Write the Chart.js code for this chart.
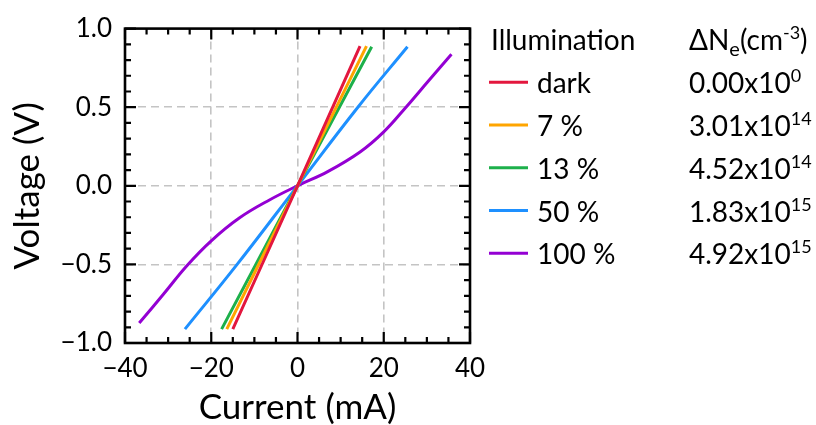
<!DOCTYPE html>
<html>
<head>
<meta charset="utf-8">
<script src="https://cdn.jsdelivr.net/npm/chart.js@4.4.1/dist/chart.umd.min.js"></script>
<style>
  html, body { margin: 0; padding: 0; background: #fff; }
</style>
</head>
<body>
<canvas id="chart" width="816" height="425"></canvas>
<script>
// illumination levels and excess carrier density
var illumination = ["dark", "7 %", "13 %", "50 %", "100 %"];
var densityMant = ["0.00", "3.01", "4.52", "1.83", "4.92"];
var densityExp = ["0", "14", "14", "15", "15"];
var colors = ["#e3173e", "#ffa500", "#1db04b", "#1e90ff", "#9400d3"];

// I-V sweeps: current (mA) and voltage (V)
var currentDark = [-15.0, 0, 14.5];
var voltageDark = [-0.912, 0, 0.889];
var current7 = [-16.4, 0, 16.0];
var voltage7 = [-0.912, 0, 0.889];
var current13 = [-17.6, 0, 17.2];
var voltage13 = [-0.912, 0, 0.885];
var current50 = [-26.1, -14.0, 0, 14.0, 25.5];
var voltage50 = [-0.912, -0.5, 0, 0.5, 0.885];
var current100 = [-36.7, -31.1, -25.7, -20.0, -13.5, -6.5, 0, 7.0, 14.5, 20.0, 25.0, 30.3, 35.7];
var voltage100 = [-0.873, -0.69, -0.51, -0.35, -0.205, -0.09, 0, 0.09, 0.215, 0.343, 0.495, 0.665, 0.837];

var xTicks = [-40, -20, 0, 20, 40];
var yTicks = [-1.0, -0.5, 0.0, 0.5, 1.0];

var currents = [currentDark, current7, current13, current50, current100];
var voltages = [voltageDark, voltage7, voltage13, voltage50, voltage100];

function pts(xs, ys) {
  return xs.map(function (x, i) { return {x: x, y: ys[i]}; });
}
function minus(s) { return s.replace("-", "\u2212"); }

// box frame with inward major/minor ticks on all sides
var frame = {
  id: "frame",
  afterDatasetsDraw: function (chart) {
    var ctx = chart.ctx, a = chart.chartArea;
    var xs = chart.scales.x, ys = chart.scales.y;
    ctx.save();
    ctx.strokeStyle = "#000";
    ctx.lineWidth = 2.2;
    ctx.beginPath();
    for (var v = -40; v <= 40; v += 5) {
      var px = xs.getPixelForValue(v);
      var len = v % 20 === 0 ? 11 : 6;
      ctx.moveTo(px, a.bottom); ctx.lineTo(px, a.bottom - len);
      ctx.moveTo(px, a.top); ctx.lineTo(px, a.top + len);
    }
    for (var k = -10; k <= 10; k++) {
      var py = ys.getPixelForValue(k / 10);
      var l2 = k % 5 === 0 ? 11 : 6;
      ctx.moveTo(a.left, py); ctx.lineTo(a.left + l2, py);
      ctx.moveTo(a.right, py); ctx.lineTo(a.right - l2, py);
    }
    ctx.stroke();
    ctx.lineWidth = 2.6;
    ctx.strokeRect(a.left, a.top, a.right - a.left, a.bottom - a.top);
    ctx.restore();
  }
};

// two-column legend: illumination and carrier density
function runs(ctx, x, y, parts) {
  parts.forEach(function (p) {
    ctx.font = p.size + "px Lato";
    ctx.fillText(p.t, x, y + (p.dy || 0));
    x += ctx.measureText(p.t).width;
  });
}
var sideLegend = {
  id: "sideLegend",
  afterDraw: function (chart) {
    var ctx = chart.ctx;
    var col1 = 491, col2 = 689, lineX = 489, textX = 537;
    var rowH = 42.75, y0 = 93.3;
    ctx.save();
    ctx.fillStyle = "#000";
    ctx.textBaseline = "alphabetic";
    runs(ctx, col1, 50, [{t: "Illumination", size: 28}]);
    runs(ctx, col2, 50, [
      {t: "\u0394N", size: 28},
      {t: "e", size: 20, dy: 6},
      {t: "(cm", size: 28},
      {t: "-3", size: 18, dy: -11},
      {t: ")", size: 28}
    ]);
    illumination.forEach(function (name, i) {
      var y = y0 + i * rowH;
      ctx.strokeStyle = colors[i];
      ctx.lineWidth = 3;
      ctx.beginPath();
      ctx.moveTo(lineX, y - 11);
      ctx.lineTo(lineX + 39, y - 11);
      ctx.stroke();
      runs(ctx, textX, y, [{t: name, size: 28}]);
      runs(ctx, col2, y, [
        {t: densityMant[i] + "x10", size: 28},
        {t: densityExp[i], size: 18, dy: -11}
      ]);
    });
    ctx.restore();
  }
};

function draw() {
  var canvas = document.getElementById("chart");
  var config = {
    type: "scatter",
    data: {
      datasets: illumination.map(function (name, i) {
        return {
          label: name,
          data: pts(currents[i], voltages[i]),
          showLine: true,
          borderColor: colors[i],
          backgroundColor: colors[i],
          borderWidth: 3,
          pointRadius: 0,
          tension: 0.4
        };
      })
    },
    options: {
      responsive: false,
      animation: false,
      devicePixelRatio: 1,
      layout: { padding: { left: 0, right: 346, top: 24, bottom: 0 } },
      plugins: { legend: { display: false }, tooltip: { enabled: false } },
      scales: {
        x: {
          type: "linear", min: -40, max: 40,
          afterFit: function (s) { s.height = 82; },
          afterBuildTicks: function (s) { s.ticks = xTicks.map(function (v) { return {value: v}; }); },
          ticks: {
            color: "#000", padding: 10,
            font: { family: "Lato", size: 26 },
            callback: function (v) { return minus(String(v)); }
          },
          grid: {
            drawTicks: false, lineWidth: 1.6,
            color: function (c) {
              var v = c.tick ? c.tick.value : 0;
              return (v === -40 || v === 40) ? "rgba(0,0,0,0)" : "#c4c4c4";
            }
          },
          border: { display: false, dash: [8, 5] },
          title: {
            display: true, text: "Current (mA)", color: "#000",
            font: { family: "Lato", size: 35, lineHeight: 1 },
            padding: { top: 0, bottom: 0 }
          }
        },
        y: {
          type: "linear", min: -1, max: 1,
          afterFit: function (s) { s.width = 125; },
          afterBuildTicks: function (s) { s.ticks = yTicks.map(function (v) { return {value: v}; }); },
          ticks: {
            color: "#000", padding: 13,
            font: { family: "Lato", size: 26 },
            callback: function (v) { return minus(Number(v).toFixed(1)); }
          },
          grid: {
            drawTicks: false, lineWidth: 1.6,
            color: function (c) {
              var v = c.tick ? c.tick.value : 0;
              return (v === -1 || v === 1) ? "rgba(0,0,0,0)" : "#c4c4c4";
            }
          },
          border: { display: false, dash: [8, 5] },
          title: {
            display: true, text: "Voltage (V)", color: "#000",
            font: { family: "Lato", size: 35, lineHeight: 1 },
            padding: { top: 10, bottom: 0 }
          }
        }
      }
    },
    plugins: [frame, sideLegend]
  };
  new Chart(canvas, config);
}

document.fonts.load("26px Lato").then(draw, draw);
</script>
</body>
</html>
